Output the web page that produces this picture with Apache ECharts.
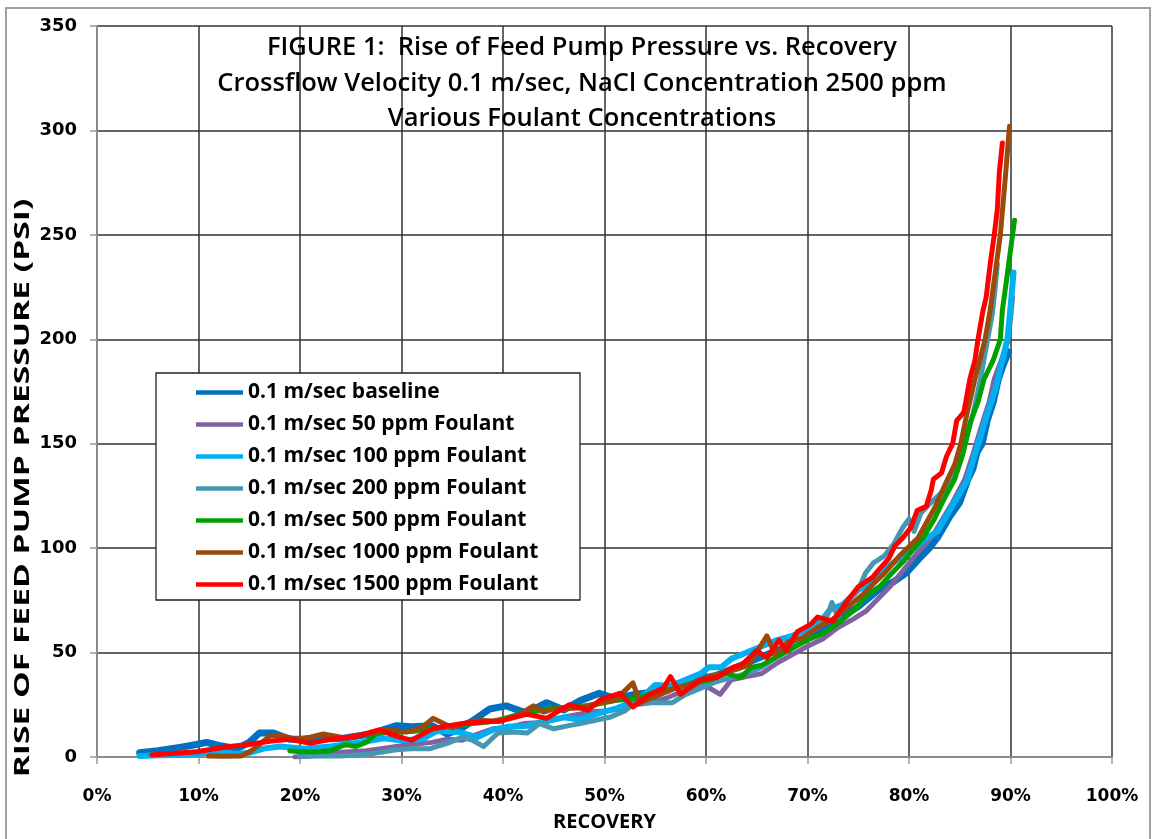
<!DOCTYPE html>
<html>
<head>
<meta charset="utf-8">
<script src="https://cdn.jsdelivr.net/npm/echarts@6/dist/echarts.min.js"></script>
<style>
html,body{margin:0;padding:0;background:#fff;}
#chart{width:1156px;height:839px;}
</style>
</head>
<body>
<div id="chart"></div>
<script>
// ---- Data (x = recovery %, y = rise of feed pump pressure, PSI) ----
var seriesNames = [
  '0.1 m/sec baseline',
  '0.1 m/sec 50 ppm Foulant',
  '0.1 m/sec 100 ppm Foulant',
  '0.1 m/sec 200 ppm Foulant',
  '0.1 m/sec 500 ppm Foulant',
  '0.1 m/sec 1000 ppm Foulant',
  '0.1 m/sec 1500 ppm Foulant'
];
var xTickLabels = ['0%','10%','20%','30%','40%','50%','60%','70%','80%','90%','100%'];
var yTickLabels = ['0','50','100','150','200','250','300','350'];

var baseline = [[4.2,2],[6,3],[8,4.5],[9.8,6],[10.8,7],[12,5.5],[13.8,4],[15,7],[16,11.5],[17.4,11.5],[19,8.5],[21.7,8.5],[24.3,9],[26.9,11],[29.5,15],[31,14.5],[33,15],[34.5,11],[36,14],[37.5,19],[38.7,23],[40.3,24.5],[42.3,21],[44.3,26],[46,22.5],[47.6,27],[49.5,30.5],[51,28],[53,30],[55,31],[57,34],[59,37],[61,39],[63,43],[65,47],[67,51],[69,55],[71,60],[73,66],[75,72],[77,80],[78.5,84],[79.7,88],[81,95],[82,100],[82.8,105],[84,115],[85,122],[85.8,133],[86.3,138],[86.7,146],[87.2,150],[87.7,161],[88.3,170],[88.8,181],[89.3,188],[89.8,194]];
var foulant50 = [[19.5,0],[21,0.5],[23,2],[25,2.5],[26.5,3],[28,4],[29.5,5],[31,6],[33,7],[34.5,8.5],[36,8],[37.5,11],[39,13.5],[40.5,14],[42,16],[44,16.5],[46,19],[48.5,21.5],[50,22],[51.5,23],[53,25],[54.5,26],[56,28],[57.5,31],[58.5,33],[60,34],[61.4,30],[62.5,37],[64,38.5],[65.5,40],[67,45],[68.5,49],[70,53],[71.5,56.5],[73,62],[74.5,66],[75.8,70],[77,76],[78.2,82],[79.2,88],[80.2,94],[81.2,100],[82.2,105],[83.2,113],[84.3,122],[85.5,133],[86.3,145],[87.3,161],[87.9,170],[88.4,181],[89.1,190],[89.8,200],[90,210],[90.2,220]];
var foulant100 = [[4.2,0.5],[6,0.8],[8,1],[9.8,1.5],[12,2.5],[13.7,1.5],[15,2],[16.4,4],[18,5],[20.5,4],[23,5],[26,7],[28.2,9],[30,8],[32,8.5],[33.5,12.5],[35.5,12],[37.5,9.5],[39,13],[40.5,14.5],[42.5,15],[44,17],[46,19],[47.5,18],[49.5,21],[51,23],[52.6,26],[54,30],[55,34.5],[56.5,34],[58,37],[59.5,40],[60.3,43],[61.5,43],[62.5,47],[64,50],[65.5,53],[67,56],[68.5,58],[70,61],[71.5,66],[72.2,70.5],[73.5,73],[75,80],[76.5,84],[77.5,89.5],[79,95],[80.5,100],[81.5,104],[82.8,108],[84,118],[85.7,132],[86.5,145],[87.7,164],[88.5,176],[89.2,190],[89.7,200],[90,215],[90.3,232]];
var foulant200 = [[20,0.3],[22,0.5],[24,0.5],[25.5,1],[27,1.5],[29.5,3.5],[31,4],[32.8,4],[34.5,6.5],[36,9.5],[37,8],[38.1,5],[39.5,11.5],[41,12],[42.4,11.5],[43.6,16],[45,13.5],[46.5,15],[47.6,16],[49,17.5],[50.5,19],[52,22],[53,26],[54.5,26],[56.7,26],[58,30],[59.5,33],[61,36],[62.5,38],[64,40],[65.5,43],[67,48],[68.5,52],[69.8,58],[71,62],[72,68],[72.4,74],[73,67],[74,75],[75,80],[75.7,88],[76.5,93],[77.5,96],[78.5,102],[79.4,110],[80,114],[80.5,108],[81.2,117],[82.2,122],[83.3,127],[84.4,134],[85.4,150],[86.3,164],[87,180],[87.6,196],[88.2,212],[88.5,225],[88.7,236]];
var foulant500 = [[19,3],[20,2.5],[21.5,2.5],[23,3],[24.5,6],[25.5,5],[26.5,7],[27.5,11],[28.6,12],[30,12],[31.5,12.5],[33,13.5],[35,15],[37,16],[39,17],[40.5,19],[42,21],[43.5,22],[45,23.5],[47,24],[49,25],[51,27],[53,28],[55,31],[57,33],[59,35.5],[60.5,37],[62,40],[63.4,38],[64.5,43],[65.5,44],[67,48],[68.5,52],[70,56],[71.5,59],[73,64],[74.5,70],[76,78],[77.2,82],[78.3,88],[79.5,94],[80.5,100],[81.4,105],[82.5,114],[83.5,124],[84.5,133],[85.3,145],[86.1,161],[86.8,170],[87.4,181],[88.3,190],[89,200],[89.2,214],[89.6,228],[90.2,250],[90.4,257]];
var foulant1000 = [[11,0.5],[12.5,0.3],[14.2,0.5],[15.2,3],[16,6],[17,10],[18,10.5],[19.6,8.5],[21,9.5],[22.3,11],[24.6,9],[26,10.5],[27,11.5],[28.6,13],[30.5,12],[32,14],[33.1,18.5],[35,14],[36.7,17],[38,17.5],[39.7,17],[41.5,20],[43,24.5],[44,21.5],[45,23],[47.5,23.5],[49.5,26],[51,27],[52.8,35.5],[53.5,26],[55.5,30],[57,33],[58.5,35],[60,38],[61.5,40],[63,42],[64.2,44],[66,58],[66.8,49],[68,55],[69.5,57],[71,62],[72.5,66],[74,72],[75.5,78],[76.5,83],[77.6,88],[79,96],[80.9,105],[81.7,112],[82.6,120],[83.8,133],[84.5,140],[85.1,150],[85.6,162],[86.5,181],[87.5,200],[88,214],[88.5,232],[89,250],[89.5,278],[89.9,302]];
var foulant1500 = [[5.4,1],[7,1.5],[9.8,2.5],[13,5],[15,6],[17,7.5],[19,8.5],[21,6.5],[23,8.5],[25.6,10],[27.8,13],[29.5,10],[31,8],[33,13.5],[36,16],[40,17.5],[42.4,20.5],[44.3,18.5],[46.5,25],[48.4,22.5],[49.6,27.5],[51.5,30.5],[52.8,24],[54.5,30],[55.8,33],[56.5,38.5],[57.5,30],[59.5,37],[61,38],[62.7,43],[63.5,44],[65,51],[66,47.5],[67.2,56],[67.9,51],[69,60],[70.3,63.5],[71,67],[72.5,65],[73.8,74],[75,81.5],[76.4,86],[77,89.5],[78,95],[78.6,101],[79.4,105],[80.2,110],[80.8,118],[81.7,120],[82.2,128],[82.4,133],[83.2,136],[83.7,144],[84.3,150],[84.7,161],[85.4,165],[86,181],[86.5,190],[86.8,200],[87.3,214],[87.6,220],[88.0,236],[88.4,250],[88.7,262],[88.9,280],[89.2,294]];

var seriesData = [baseline, foulant50, foulant100, foulant200, foulant500, foulant1000, foulant1500];
var seriesColors = ['#0070C0','#7F62A0','#00B0F0','#4597B2','#00A000','#9A4A0A','#FF0000'];
var seriesWidths = [7,5,6,5,5,5,5];

var chart = echarts.init(document.getElementById('chart'), null, {renderer:'canvas'});

var series = seriesNames.map(function(n,i){
  return {
    name:n, type:'line', data:seriesData[i], symbol:'none', showSymbol:false,
    lineStyle:{color:seriesColors[i], width:seriesWidths[i], cap:'round', join:'round'},
    itemStyle:{color:seriesColors[i]},
    z:2, animation:false
  };
});

var option = {
  backgroundColor:'#fff',
  animation:false,
  grid:{left:97, right:44, top:26, bottom:82, containLabel:false},
  xAxis:{
    type:'value', min:0, max:100, interval:10,
    name:'RECOVERY', nameLocation:'middle', nameGap:55,
    nameTextStyle:{fontFamily:'Open Sans', fontWeight:'bold', fontSize:20, color:'#000'},
    axisLine:{show:true, onZero:false, lineStyle:{color:'#999', width:1.5}},
    axisTick:{show:true, length:7, lineStyle:{color:'#999', width:1.5}},
    axisLabel:{margin:31, fontFamily:'DejaVu Sans', fontWeight:'bold', fontSize:17, color:'#000',
      formatter:function(v){ return xTickLabels[Math.round(v/10)]; }},
    splitLine:{show:true, lineStyle:{color:'#333', width:1.5}}
  },
  yAxis:{
    type:'value', min:0, max:350, interval:50,
    axisLine:{show:true, lineStyle:{color:'#999', width:1.5}},
    axisTick:{show:true, length:7, lineStyle:{color:'#999', width:1.5}},
    axisLabel:{margin:20, fontFamily:'DejaVu Sans', fontWeight:'bold', fontSize:18, color:'#000',
      formatter:function(v){ return yTickLabels[Math.round(v/50)]; }},
    splitLine:{show:true, lineStyle:{color:'#333', width:1.5}}
  },
  legend:{
    show:true, orient:'vertical', left:196, top:382, padding:0,
    icon:'rect', itemWidth:47, itemHeight:4.5, itemGap:11, z:10,
    data:seriesNames,
    textStyle:{fontFamily:'Open Sans', fontWeight:'bold', fontSize:21, color:'#000'}
  },
  graphic:{elements:[
    {type:'rect', z:-1, silent:true, shape:{x:6, y:8, width:1144, height:840}, style:{fill:'none', stroke:'#a0a0a0', lineWidth:2}},
    {type:'rect', z:5, silent:true, shape:{x:156, y:373, width:424, height:227}, style:{fill:'#fff', stroke:'#222', lineWidth:1.3}},
    {type:'text', z:5, silent:true, x:582, y:30, style:{text:'FIGURE 1:  Rise of Feed Pump Pressure vs. Recovery\nCrossflow Velocity 0.1 m/sec, NaCl Concentration 2500 ppm\nVarious Foulant Concentrations',
      font:'600 25.5px "Open Sans"', fill:'#000', textAlign:'center', lineHeight:35.5}},
    {type:'text', z:5, silent:true, x:23, y:488, rotation:Math.PI/2, scaleX:1.6, scaleY:1,
      style:{text:'RISE OF FEED PUMP PRESSURE (PSI)', font:'bold 21px "Open Sans"', fill:'#000', textAlign:'center', textVerticalAlign:'middle'}}
  ]},
  series:series
};
chart.setOption(option);
</script>
</body>
</html>
